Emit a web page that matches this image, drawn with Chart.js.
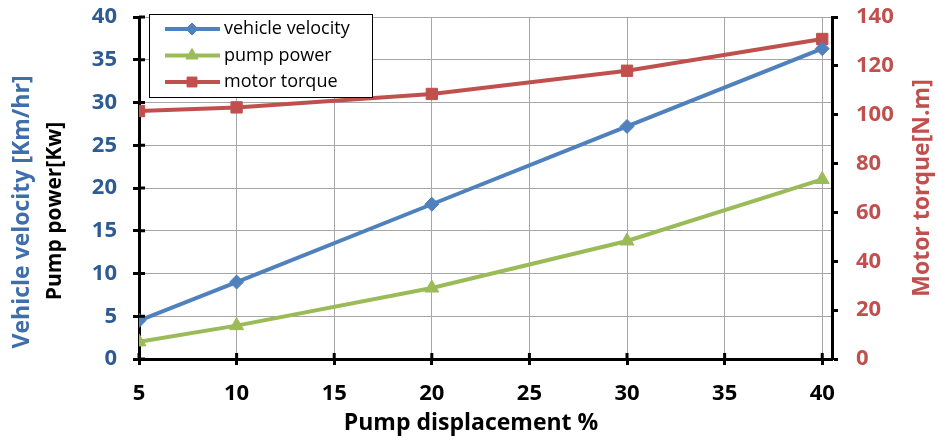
<!DOCTYPE html>
<html>
<head>
<meta charset="utf-8">
<script src="https://cdn.jsdelivr.net/npm/chart.js@4.4.1/dist/chart.umd.min.js"></script>
<style>
html,body{margin:0;padding:0;background:#fff;}
#wrap{width:939px;height:440px;position:relative;}
</style>
</head>
<body>
<div id="wrap"><canvas id="c" width="939" height="440"></canvas></div>
<script>
const displacement = [5, 10, 20, 30, 40];
const vehicleVelocity = [4.5, 9.0, 18.1, 27.2, 36.3];
const pumpPower = [2.0, 3.9, 8.3, 13.8, 21.0];
const motorTorque = [101.5, 103, 108.5, 118, 131];
const xTicks = [5, 10, 15, 20, 25, 30, 35, 40];
const leftTicks = [0, 5, 10, 15, 20, 25, 30, 35, 40];
const rightTicks = [0, 20, 40, 60, 80, 100, 120, 140];

const BLUE = '#4F81BD', GREEN = '#9BBB59', RED = '#C0504D';
const FONT = "'Open Sans', 'Liberation Sans', sans-serif";

function pts(ys){ return displacement.map((x,i)=>({x:x,y:ys[i]})); }

const titlesPlugin = {
  id:'titles',
  afterDraw(chart){
    const ctx = chart.ctx;
    ctx.save();
    ctx.textAlign='center'; ctx.textBaseline='middle';
    ctx.font = "bold 23px " + FONT;
    ctx.fillStyle='#000';
    ctx.fillText('Pump displacement %', 471, 423);
    ctx.save(); ctx.translate(22, 212); ctx.rotate(-Math.PI/2);
    ctx.font = "bold 23px " + FONT;
    ctx.fillStyle='#3F6EAA'; ctx.fillText('Vehicle velocity [Km/hr]', 0, 0); ctx.restore();
    ctx.save(); ctx.translate(55, 211); ctx.rotate(-Math.PI/2);
    ctx.font = "bold 21px " + FONT;
    ctx.fillStyle='#000'; ctx.fillText('Pump power[Kw]', 0, 0); ctx.restore();
    ctx.save(); ctx.translate(922, 188); ctx.rotate(-Math.PI/2);
    ctx.font = "bold 23px " + FONT;
    ctx.fillStyle=RED; ctx.fillText('Motor torque[N.m]', 0, 0); ctx.restore();
    const xs = chart.scales.x, ys = chart.scales.y;
    ctx.strokeStyle='#000'; ctx.lineWidth=3;
    xTicks.forEach(v=>{ const px=xs.getPixelForValue(v); ctx.beginPath(); ctx.moveTo(px, xs.top); ctx.lineTo(px, xs.top-6); ctx.stroke(); });
    leftTicks.forEach(v=>{ const py=ys.getPixelForValue(v); ctx.beginPath(); ctx.moveTo(ys.right, py); ctx.lineTo(ys.right+6, py); ctx.stroke(); });
    const lx=149.5, ly=14.5, lw=223, lh=83;
    ctx.fillStyle='#fff'; ctx.fillRect(lx,ly,lw,lh);
    ctx.strokeStyle='#000'; ctx.lineWidth=1; ctx.strokeRect(lx,ly,lw,lh);
    chart.data.datasets.forEach((ds,i)=>{
      const y = 29 + i*26.5;
      ctx.strokeStyle=ds.borderColor; ctx.lineWidth=4; ctx.lineCap='butt';
      ctx.beginPath(); ctx.moveTo(165,y); ctx.lineTo(220,y); ctx.stroke();
      ctx.fillStyle = ds.borderColor; ctx.strokeStyle = ds.borderColor; ctx.lineWidth=1;
      Chart.helpers.drawPoint(ctx, {pointStyle:ds.pointStyle, radius:ds.pointRadius-1, rotation:0, borderWidth:1}, 192, y);
      ctx.fillStyle='#000'; ctx.textAlign='left'; ctx.textBaseline='middle';
      ctx.font = "18px " + FONT;
      ctx.fillText(ds.label, 224, y);
    });
    ctx.restore();
  }
};

new Chart(document.getElementById('c'), {
  type:'line',
  data:{
    datasets:[
      {label:'vehicle velocity', data:pts(vehicleVelocity), yAxisID:'y', borderColor:BLUE, backgroundColor:BLUE, borderWidth:4, pointStyle:'rectRot', pointRadius:7, pointBorderWidth:1},
      {label:'pump power', data:pts(pumpPower), yAxisID:'y', borderColor:GREEN, backgroundColor:GREEN, borderWidth:4, pointStyle:'triangle', pointRadius:8, pointBorderWidth:1},
      {label:'motor torque', data:pts(motorTorque), yAxisID:'y2', borderColor:RED, backgroundColor:RED, borderWidth:4, pointStyle:'rect', pointRadius:8, pointBorderWidth:1}
    ]
  },
  options:{
    responsive:false, animation:false,
    layout:{padding:{top:17,left:0,right:0,bottom:0}},
    plugins:{legend:{display:false}, tooltip:{enabled:false}},
    scales:{
      x:{type:'linear', min:5, max:40.5,
        afterBuildTicks(s){ s.ticks = xTicks.map(v=>({value:v})); },
        afterFit(s){ s.height=81; s.paddingLeft=0; s.paddingRight=0; },
        ticks:{color:'#000', font:{family:FONT, size:22, weight:'bold'}, padding:16, maxRotation:0},
        grid:{color:'#A6A6A6', lineWidth:1, tickColor:'#000', tickWidth:3, tickLength:6},
        border:{color:'#000', width:3}
      },
      y:{position:'left', min:0, max:40,
        afterBuildTicks(s){ s.ticks = leftTicks.map(v=>({value:v})); },
        afterFit(s){ s.width=139; s.paddingTop=0; s.paddingBottom=0; },
        ticks:{color:'#2E5B92', font:{family:FONT, size:22, weight:'bold'}, padding:16},
        grid:{color:'#A6A6A6', lineWidth:1, tickColor:'#000', tickWidth:3, tickLength:6},
        border:{color:'#000', width:3}
      },
      y2:{position:'right', min:0, max:140,
        afterBuildTicks(s){ s.ticks = rightTicks.map(v=>({value:v})); },
        afterFit(s){ s.width=107; s.paddingTop=0; s.paddingBottom=0; },
        ticks:{color:RED, font:{family:FONT, size:22, weight:'bold'}, padding:18},
        grid:{drawOnChartArea:false, tickColor:'#000', tickWidth:3, tickLength:6},
        border:{color:'#000', width:3}
      }
    }
  },
  plugins:[titlesPlugin]
});
</script>
</body>
</html>
